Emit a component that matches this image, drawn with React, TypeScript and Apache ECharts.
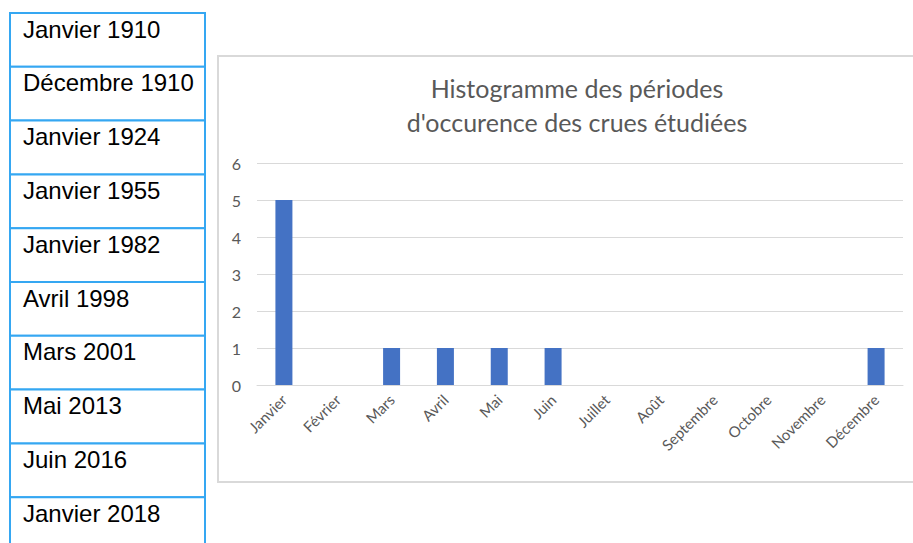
import React, { useEffect, useRef } from "react";
import * as echarts from "echarts";

const months = ["Janvier", "Février", "Mars", "Avril", "Mai", "Juin", "Juillet", "Août", "Septembre", "Octobre", "Novembre", "Décembre"];
const counts = [5, 0, 1, 1, 1, 1, 0, 0, 0, 0, 0, 1];
const floodDates = ["Janvier 1910", "Décembre 1910", "Janvier 1924", "Janvier 1955", "Janvier 1982", "Avril 1998", "Mars 2001", "Mai 2013", "Juin 2016", "Janvier 2018"];
const titleText = "Histogramme des périodes\nd'occurence des crues étudiées";

export default function App() {
  const ref = useRef<HTMLDivElement>(null);
  useEffect(() => {
    const chart = echarts.init(ref.current!, null, { renderer: "svg" });
    const rowTop = 13;
    const rowH = 53.8;
    const tableEls: any[] = [];
    floodDates.forEach((d, i) => {
      tableEls.push({
        type: "rect",
        shape: { x: 10, y: rowTop + i * rowH, width: 195, height: rowH },
        style: { fill: "#ffffff", stroke: "#35a7f2", lineWidth: 2 },
        z: 1,
      });
      tableEls.push({
        type: "text",
        x: 23,
        y: rowTop + i * rowH + 16,
        style: {
          text: d,
          fontFamily: "Liberation Sans, Arial, sans-serif",
          fontSize: 24,
          fill: "#000000",
          verticalAlign: "middle",
          align: "left",
        },
        z: 2,
      });
    });
    chart.setOption({
      animation: false,
      backgroundColor: "#ffffff",
      title: {
        text: titleText,
        left: 572,
        top: 66,
        textAlign: "center",
        textStyle: {
          fontFamily: "Lato, 'Open Sans', sans-serif",
          fontSize: 25,
          fontWeight: "normal",
          color: "#595959",
          lineHeight: 34,
        },
      },
      graphic: [
        {
          type: "rect",
          shape: { x: 218, y: 56, width: 720, height: 426 },
          style: { fill: "none", stroke: "#d9d9d9", lineWidth: 2 },
          z: 0,
        },
        ...tableEls,
      ],
      grid: { left: 257, right: 10, top: 163, bottom: 158, containLabel: false },
      xAxis: {
        type: "category",
        data: months,
        axisLine: { lineStyle: { color: "#d9d9d9", width: 1 } },
        axisTick: { show: false },
        axisLabel: {
          rotate: 45,
          interval: 0,
          color: "#595959",
          fontSize: 15,
          fontFamily: "Lato, 'Open Sans', sans-serif",
          margin: 12,
        },
      },
      yAxis: {
        type: "value",
        min: 0,
        max: 6,
        interval: 1,
        axisLine: { show: false },
        axisTick: { show: false },
        splitLine: { lineStyle: { color: "#d9d9d9", width: 1 } },
        axisLabel: {
          color: "#595959",
          fontSize: 16,
          fontFamily: "Lato, 'Open Sans', sans-serif",
          margin: 16,
        },
      },
      series: [
        {
          type: "bar",
          data: counts,
          barWidth: 17,
          itemStyle: { color: "#4472c4" },
        },
      ],
    });
    return () => chart.dispose();
  }, []);
  return <div ref={ref} style={{ position: "fixed", left: 0, top: 0, width: 913, height: 543 }} />;
}
